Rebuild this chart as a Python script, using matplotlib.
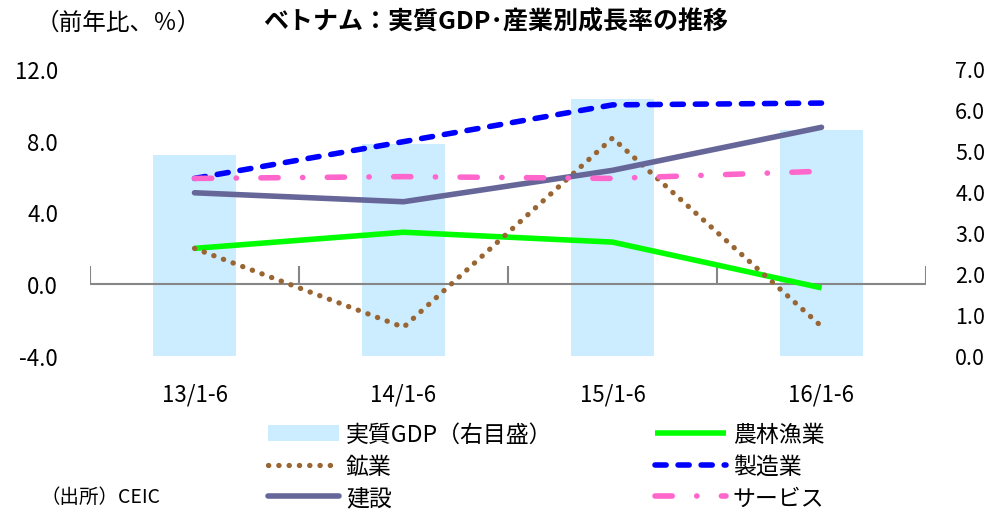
import matplotlib
matplotlib.use("Agg")
import matplotlib.pyplot as plt
import numpy as np

plt.rcParams['font.family'] = ['Noto Sans CJK JP', 'DejaVu Sans']

categories = ["13/1-6", "14/1-6", "15/1-6", "16/1-6"]
gdp = [4.9, 5.18, 6.28, 5.52]          # right axis
agri = [2.0, 2.9, 2.35, -0.2]          # 農林漁業
mining = [2.0, -2.4, 8.15, -2.35]      # 鉱業
manuf = [5.9, 7.95, 10.0, 10.1]        # 製造業
constr = [5.1, 4.6, 6.35, 8.75]        # 建設
service = [5.9, 6.0, 5.9, 6.3]         # サービス
left_ticks = [-4, 0, 4, 8, 12]
right_ticks = [0, 1, 2, 3, 4, 5, 6, 7]

fig = plt.figure(figsize=(9.84, 5.10), dpi=100)
ax = fig.add_axes([90/984, 1-357/510, (926-90)/984, (357-70)/510])
ax2 = ax.twinx()
ax.set_zorder(ax2.get_zorder() + 1)
ax.patch.set_visible(False)

x = np.arange(len(categories))
bars = ax2.bar(x, gdp, width=0.4, color='#CCECFF', label='実質GDP（右目盛）')
ax2.set_ylim(0, 7)
ax.set_ylim(-4, 12)
ax.set_xlim(-0.5, len(categories) - 0.5)

lw = 4
l_agri, = ax.plot(x, agri, color='#00FF00', lw=lw, solid_capstyle='butt', label='農林漁業')
l_min, = ax.plot(x, mining, color='#996633', lw=3.8, linestyle=(0, (0.05, 1.9)),
                 dash_capstyle='round', label='鉱業')
l_man, = ax.plot(x, manuf, color='#0000FF', lw=lw, linestyle=(0, (2.0, 2.15)),
                 dash_capstyle='round', label='製造業')
l_con, = ax.plot(x, constr, color='#666699', lw=lw, solid_capstyle='round', label='建設')
l_srv, = ax.plot(x, service, color='#FF66CC', lw=lw, linestyle=(0, (3.1, 4.4, 0.05, 4.4)),
                 dash_capstyle='round', label='サービス')

# x axis line at zero with boundary ticks
ax.axhline(0, color='#868686', lw=1.5, zorder=0.5)
bounds = np.arange(len(categories) + 1) - 0.5
ax.vlines(bounds, 0, 1.0, color='#868686', lw=1.5, zorder=0.5)

for a in (ax, ax2):
    for s in a.spines.values():
        s.set_visible(False)

ax.set_xticks(x)
ax.set_xticklabels(categories, fontsize=16)
ax.tick_params(axis='x', length=0, pad=19)
ax.set_yticks(left_ticks)
ax.set_yticklabels([f"{v:.1f}" for v in left_ticks], fontsize=16)
ax.tick_params(axis='y', length=0, pad=23)
ax2.set_yticks(right_ticks)
ax2.set_yticklabels([f"{v:.1f}" for v in right_ticks], fontsize=15.5)
ax2.tick_params(axis='y', length=0, pad=21)

fig.text(496/984, 1-22/510, 'ベトナム：実質GDP･産業別成長率の推移', ha='center', va='center',
         fontsize=18, fontweight='bold')
fig.text(36/984, 1-23/510, '（前年比、％）', ha='left', va='center', fontsize=17)
fig.text(40/984, 1-497/510, '（出所）CEIC', ha='left', va='center', fontsize=14)

leg_kw = dict(frameon=False, fontsize=16.5, handlelength=3.1, handletextpad=0.3,
              labelspacing=0.38, borderpad=0, borderaxespad=0, loc='upper left')
leg1 = fig.legend([bars, l_min, l_con], ['実質GDP（右目盛）', '鉱業', '建設'],
                  bbox_to_anchor=(268/984, 1-424/510), **leg_kw)
leg2 = fig.legend([l_agri, l_man, l_srv], ['農林漁業', '製造業', 'サービス'],
                  bbox_to_anchor=(655/984, 1-424/510), **leg_kw)

fig.savefig('out.png', dpi=100)
